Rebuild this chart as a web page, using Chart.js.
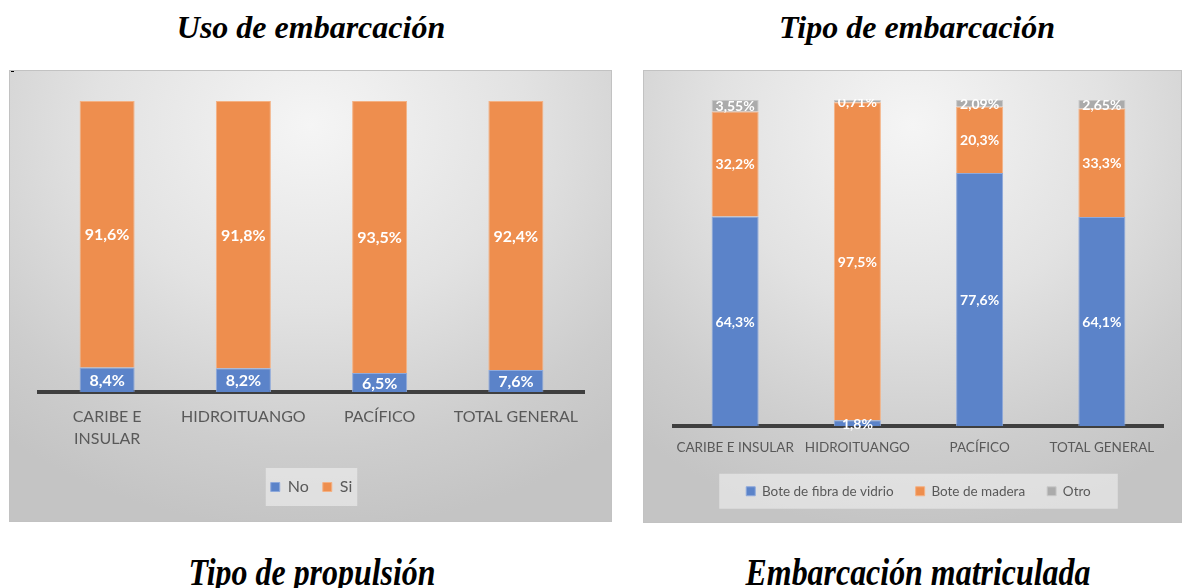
<!DOCTYPE html>
<html><head><meta charset="utf-8">
<script src="https://cdn.jsdelivr.net/npm/chart.js@4.4.1/dist/chart.umd.min.js"></script>
<style>
html,body{margin:0;padding:0;background:#fff;width:1182px;height:588px;overflow:hidden;}
body{position:relative;}
.title{position:absolute;font-family:"Liberation Serif","DejaVu Serif",serif;font-weight:bold;font-style:italic;font-size:32px;line-height:32px;color:#000;white-space:nowrap;transform:translateX(-50%);}
.title.low{font-size:38px;line-height:38px;transform:translateX(-50%) scaleX(0.84);}
.panel{position:absolute;box-sizing:border-box;border:1px solid #c2c2c2;
 background:radial-gradient(ellipse 80% 90% at 50% 12%, #f5f5f5 0%, #e2e2e2 45%, #cdcdcd 80%, #c4c4c4 100%);}
.panel canvas{position:absolute;left:0;top:0;}
.dot{position:absolute;left:11px;top:71px;width:3px;height:1px;background:#000;}
</style></head>
<body>
<div class="title" style="left:311px;top:11px;">Uso de embarcación</div>
<div class="title" style="left:917px;top:11px;">Tipo de embarcación</div>
<div class="panel" style="left:9px;top:70px;width:603px;height:452px;"><canvas id="c1" width="603" height="452"></canvas></div>
<div class="dot"></div>
<div class="panel" style="left:643px;top:70px;width:539px;height:453px;"><canvas id="c2" width="539" height="453"></canvas></div>
<div class="title low" style="left:312px;top:553px;">Tipo de propulsión</div>
<div class="title low" style="left:918px;top:553px;">Embarcación matriculada</div>
<script>
// ---- data ----
const usoCategories = [['CARIBE E','INSULAR'], 'HIDROITUANGO', 'PACÍFICO', 'TOTAL GENERAL'];
const usoNo = [8.4, 8.2, 6.5, 7.6];
const usoSi = [91.6, 91.8, 93.5, 92.4];

const tipoCategories = ['CARIBE E INSULAR', 'HIDROITUANGO', 'PACÍFICO', 'TOTAL GENERAL'];
const tipoFibra = [64.3, 1.8, 77.6, 64.1];
const tipoMadera = [32.2, 97.5, 20.3, 33.3];
const tipoOtro = [3.55, 0.71, 2.09, 2.65];

const BLUE = '#5B83C9', ORANGE = '#EE8E4E', GRAY = '#ABABAB';
const GREYTXT = '#595959';

const valueLabels = {
  id: 'valueLabels',
  afterDraw(chart, args, opts) {
    const ctx = chart.ctx, ca = chart.chartArea;
    ctx.save();
    ctx.beginPath();
    ctx.rect(ca.left, ca.top - 1, ca.right - ca.left, ca.bottom - ca.top + 30);
    ctx.clip();
    ctx.font = 'bold ' + opts.size + 'px Lato';
    ctx.fillStyle = '#ffffff';
    ctx.textAlign = 'center';
    ctx.textBaseline = 'middle';
    chart.data.datasets.forEach((ds, i) => {
      const meta = chart.getDatasetMeta(i);
      meta.data.forEach((bar, j) => {
        const p = bar.getProps(['x', 'y', 'base'], true);
        const txt = ds.data[j].toFixed(ds.decimals).replace('.', ',') + '%';
        ctx.fillText(txt, p.x, (p.y + p.base) / 2 + 1);
      });
    });
    ctx.restore();
  }
};

const legendBg = {
  id: 'legendBg',
  beforeDraw(chart, args, opts) {
    const lg = chart.legend;
    if (!lg || !lg.legendHitBoxes || !lg.legendHitBoxes.length) return;
    const hb = lg.legendHitBoxes;
    const l = Math.min(...hb.map(h => h.left)) - opts.padL;
    const r = Math.max(...hb.map(h => h.left + h.width)) + opts.padR;
    const cy = hb[0].top + hb[0].height / 2;
    const ctx = chart.ctx;
    ctx.save();
    ctx.fillStyle = opts.color;
    ctx.fillRect(l, cy - opts.h / 2, r - l, opts.h);
    ctx.restore();
  }
};

function makeChart(id, labels, datasets, cfg) {
  return new Chart(document.getElementById(id), {
    type: 'bar',
    data: { labels, datasets },
    plugins: [valueLabels, legendBg],
    options: {
      responsive: false,
      animation: false,
      devicePixelRatio: 1,
      layout: { padding: cfg.padding },
      datasets: { bar: { categoryPercentage: 1, barPercentage: cfg.barPct, borderWidth: 1 } },
      scales: {
        x: {
          stacked: true,
          z: 1,
          grid: { display: false, drawTicks: true, tickLength: cfg.tickPad, drawOnChartArea: false, color: 'rgba(0,0,0,0)' },
          border: { display: true, color: '#3f3f3f', width: 4 },
          ticks: { color: GREYTXT, font: { family: 'Lato', size: cfg.tickSize, lineHeight: cfg.tickLH }, padding: 0, maxRotation: 0, autoSkip: false }
        },
        y: { stacked: true, display: false, min: 0, max: 100 }
      },
      plugins: {
        tooltip: { enabled: false },
        legend: {
          position: 'bottom',
          title: { display: true, text: ' ', font: { size: 1, lineHeight: 1 }, padding: { top: cfg.legendTitlePad, bottom: 0 } },
          labels: { color: GREYTXT, font: { family: 'Lato', size: cfg.legendSize }, boxWidth: 9, boxHeight: 9, padding: cfg.legendPad }
        },
        valueLabels: { size: cfg.labelSize },
        legendBg: cfg.legendBg
      }
    }
  });
}

makeChart('c1', usoCategories, [
  { label: 'No', data: usoNo, decimals: 1, backgroundColor: BLUE, borderColor: '#8EA9DB' },
  { label: 'Si', data: usoSi, decimals: 1, backgroundColor: ORANGE, borderColor: '#F4B183' }
], {
  padding: { left: 29, right: 29, top: 30, bottom: 18 },
  barPct: 0.404, tickSize: 16, tickLH: 1.35, tickPad: 14,
  legendSize: 16, legendPad: 14, legendTitlePad: 14.8, labelSize: 16,
  legendBg: { padL: 5, padR: 5, h: 38, color: 'rgba(240,240,240,0.6)' }
});

makeChart('c2', tipoCategories, [
  { label: 'Bote de fibra de vidrio', data: tipoFibra, decimals: 1, backgroundColor: BLUE, borderColor: '#8EA9DB' },
  { label: 'Bote de madera', data: tipoMadera, decimals: 1, backgroundColor: ORANGE, borderColor: '#F4B183' },
  { label: 'Otro', data: tipoOtro, decimals: 2, backgroundColor: GRAY, borderColor: '#C9C9C9' }
], {
  padding: { left: 30, right: 20, top: 29, bottom: 16 },
  barPct: 0.385, tickSize: 13.5, tickLH: 1.2, tickPad: 13.6,
  legendSize: 13.5, legendPad: 22, legendTitlePad: 5.6, labelSize: 14,
  legendBg: { padL: 27, padR: 27, h: 35, color: 'rgba(240,240,240,0.6)' }
});
</script>
</body></html>
